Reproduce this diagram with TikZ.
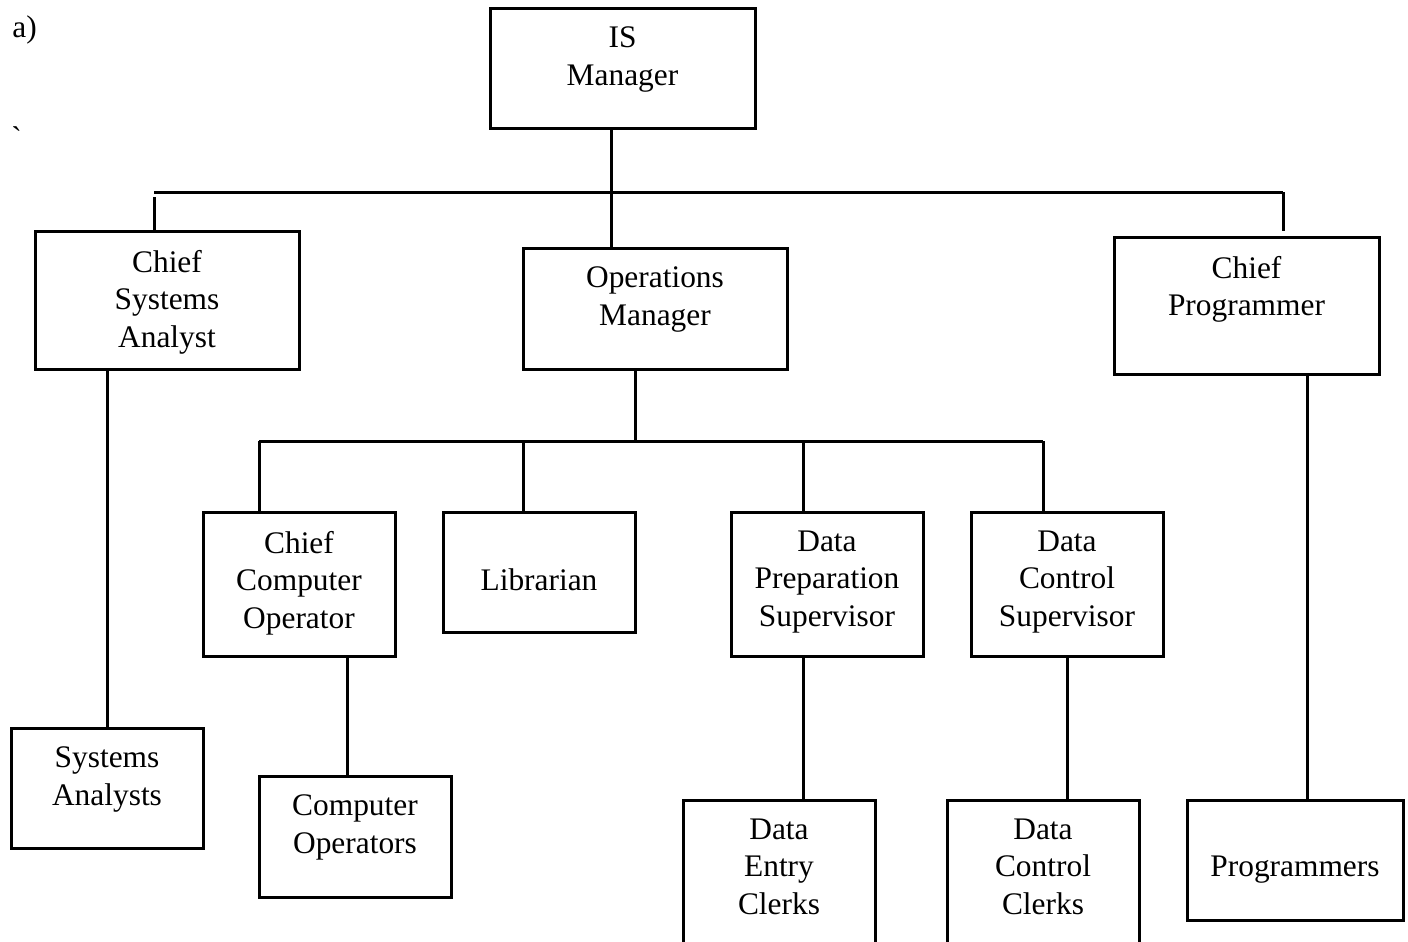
\documentclass[tikz,border=0pt]{standalone}
\usepackage{fontspec}
\setmainfont{Liberation Serif}
\usepackage{tikz}
\usetikzlibrary{positioning, calc}

\begin{document}
\begin{tikzpicture}[
        x=0.5pt, y=-0.5pt,
        every node/.style={font=\fontsize{15.7}{18.75}\selectfont},
        unitbox/.style={rectangle, draw=black, line width=1.5pt, inner sep=0pt},
        lbl/.style={align=center, inner sep=0pt},
        link/.style={draw=black, line width=1.5pt},
      ]
        \useasboundingbox (0,0) rectangle (1408,942);
        \clip (0,0) rectangle (1408,942);

        % Caption marks
        \node[lbl, anchor=base west] (tag) at (12,37) {a)};
        \node[lbl, anchor=base west] (tick) at (11,148) {\textasciigrave};

        % Top level
        \node[unitbox, minimum width=132.5pt, minimum height=60pt] (ism) at (622.5,68) {};
        \node[lbl, below=10pt of ism.north] (ism-t) {IS\\Manager};

        % Second level
        \node[unitbox, minimum width=132pt, minimum height=69pt] (csa) at (167,300) {};
        \node[lbl, below=10pt of csa.north] (csa-t) {Chief\\Systems\\Analyst};
        \node[unitbox, minimum width=132pt, minimum height=60.5pt] (opm) at (655,308.5) {};
        \node[lbl, below=10pt of opm.north] (opm-t) {Operations\\Manager};
        \node[unitbox, minimum width=132.5pt, minimum height=68.5pt] (cpr) at (1246.5,305.5) {};
        \node[lbl, below=10pt of cpr.north] (cpr-t) {Chief\\Programmer};

        % Third level, under operations
        \node[unitbox, minimum width=96pt, minimum height=72pt] (cco) at (299,584) {};
        \node[lbl, below=10pt of cco.north] (cco-t) {Chief\\Computer\\Operator};
        \node[unitbox, minimum width=96pt, minimum height=60pt] (lib) at (539,572) {};
        \node[lbl, below=28.75pt of lib.north] (lib-t) {Librarian};
        \node[unitbox, minimum width=96pt, minimum height=72pt] (dps) at (827,584) {};
        \node[lbl, below=10pt of dps.north] (dps-t) {Data\\Preparation\\Supervisor};
        \node[unitbox, minimum width=96pt, minimum height=72pt] (dcs) at (1067,584) {};
        \node[lbl, below=10pt of dcs.north] (dcs-t) {Data\\Control\\Supervisor};

        % Staff
        \node[unitbox, minimum width=96pt, minimum height=60pt] (sa) at (107,788) {};
        \node[lbl, below=10pt of sa.north] (sa-t) {Systems\\Analysts};
        \node[unitbox, minimum width=96pt, minimum height=60.5pt] (cop) at (355,836.5) {};
        \node[lbl, below=10pt of cop.north] (cop-t) {Computer\\Operators};
        \node[unitbox, minimum width=96pt, minimum height=90pt] (dec) at (779,890) {};
        \node[lbl, below=10pt of dec.north] (dec-t) {Data\\Entry\\Clerks};
        \node[unitbox, minimum width=96pt, minimum height=90pt] (dcc) at (1043,890) {};
        \node[lbl, below=10pt of dcc.north] (dcc-t) {Data\\Control\\Clerks};
        \node[unitbox, minimum width=108pt, minimum height=60pt] (prg) at (1295,860) {};
        \node[lbl, below=28.75pt of prg.north] (prg-t) {Programmers};

        % Bus and link points
        \coordinate (topbus-l) at (154,192);
        \coordinate (topbus-m) at (611,192);
        \coordinate (topbus-r) at (1283,192);
        \coordinate (midbus-l) at (259,441);
        \coordinate (midbus-m) at (635,441);
        \coordinate (midbus-r) at (1043,441);
        \coordinate (lib-link) at (523,441);
        \coordinate (dps-link) at (803,441);
        \coordinate (cop-link) at (347,716);
        \coordinate (dec-link) at (803,728);
        \coordinate (prg-link) at (1307,587);

        \draw[link] (topbus-l) -- (topbus-r);
        \draw[link] (ism.south -| topbus-m) -- (opm.north -| topbus-m);
        \draw[link] ($(topbus-l)+(0,5)$) -- (csa.north -| topbus-l);
        \draw[link] (topbus-r) -- ($(cpr.north -| topbus-r)+(0,-5)$);

        \draw[link] (opm.south -| midbus-m) -- (midbus-m);
        \draw[link] (midbus-l) -- (midbus-r);
        \draw[link] (midbus-l) -- (cco.north -| midbus-l);
        \draw[link] (lib-link) -- (lib.north -| lib-link);
        \draw[link] (dps-link) -- (dps.north -| dps-link);
        \draw[link] (midbus-r) -- (dcs.north -| midbus-r);

        \draw[link] (csa.south -| sa.north) -- (sa.north);
        \draw[link] (cco.south -| cop-link) -- (cop.north -| cop-link);
        \draw[link] (dps.south -| dec-link) -- (dec.north -| dec-link);
        \draw[link] (dcs.south) -- (dcs.south |- dcc.north);
        \draw[link] (cpr.south -| prg-link) -- (prg.north -| prg-link);
      \end{tikzpicture}
\end{document}
